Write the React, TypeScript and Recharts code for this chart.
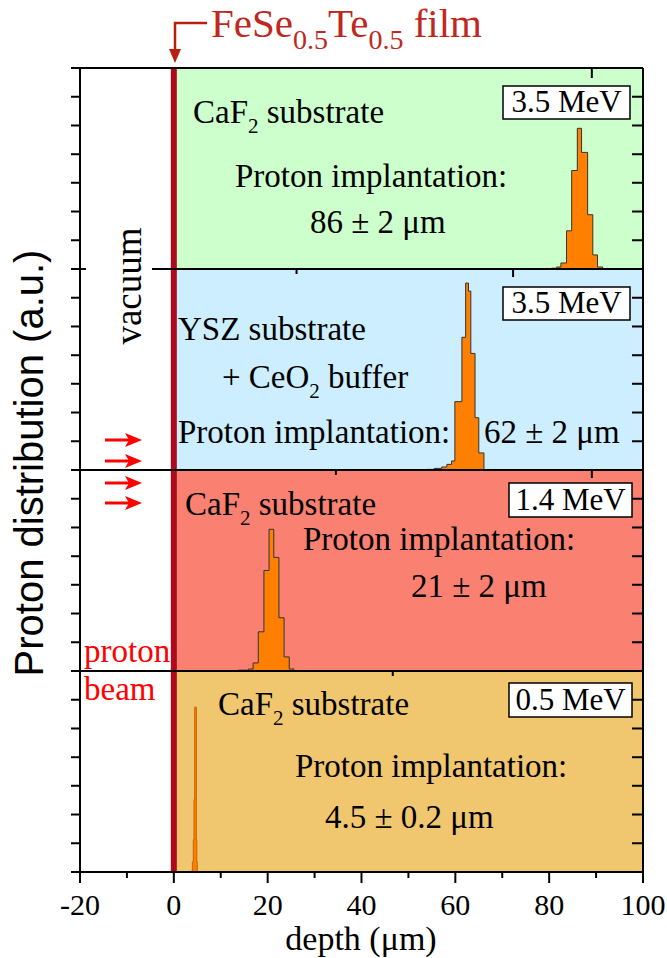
import { ComposedChart, Area, XAxis, YAxis, ReferenceArea, ReferenceLine } from 'recharts'

// histogram bin edges (µm) and normalised counts
const edges35CaF2 = [80.5, 81.6, 82.5, 83.7, 84.8, 86.0, 86.9, 88.2, 89.3, 90.3, 91.4]
const counts35CaF2 = [0.004, 0.01, 0.03, 0.19, 0.49, 0.7, 0.58, 0.27, 0.07, 0.01]

const edges35YSZ = [53.9, 55.5, 57.1, 58.2, 59.2, 59.9, 61.4, 62.2, 62.8, 63.3, 64.2, 65.0, 66.1]
const counts35YSZ = [0.003, 0.008, 0.015, 0.028, 0.045, 0.34, 0.66, 0.93, 0.89, 0.58, 0.26, 0.085]

const edges14CaF2 = [13.7, 15.9, 16.9, 18.0, 19.2, 20.3, 21.3, 22.4, 23.5, 24.6, 25.6]
const counts14CaF2 = [0.004, 0.01, 0.04, 0.195, 0.5, 0.705, 0.565, 0.265, 0.07, 0.01]

const edges05CaF2 = [3.7, 3.95, 4.15, 4.3, 4.45, 4.8, 4.9, 5.0, 5.2]
const counts05CaF2 = [0.005, 0.05, 0.16, 0.36, 0.82, 0.16, 0.05, 0.005]

const bottomTicks = [-20, -10, 0, 10, 20, 30, 40, 50, 60, 70, 80, 90, 100]
const topTicksCoarse = [-20, -10, 0, 10, 20, 30, 40, 50, 60, 70, 80, 90, 100]
const topTicksFine = [-20, -15, -10, -5, 0, 5, 10, 15, 20, 25, 30, 35, 40, 45, 50, 55, 60, 65, 70, 75, 80, 85, 90, 95, 100]
const yTicks = [0, 0.143, 0.286, 0.429, 0.571, 0.714, 0.857, 1]

const W = 667
const PANEL_H = 201
const TOP = 68
const SERIF = '"Liberation Serif", "Times New Roman", serif'
const FILM = '#AE0A1E'

const toSteps = (edges: number[], counts: number[]) => [
  { x: edges[0], y: 0 },
  ...edges.map((x, i) => ({ x, y: i < counts.length ? counts[i] : 0 })),
]

const BottomTick = (props: any) => {
  const { x, y, payload } = props
  const major = payload.value % 20 === 0
  return (
    <g>
      <line x1={x} x2={x} y1={y} y2={y + (major ? 11 : 6)} stroke="#000" strokeWidth={2} />
      {major && (
        <text x={x} y={y + 43} textAnchor="middle" fontFamily={SERIF} fontSize={30} fill="#000">
          {payload.value}
        </text>
      )}
    </g>
  )
}

const TopTick = (props: any) => {
  const { x, y, payload, fine } = props
  const len = fine ? (payload.value % 10 === 0 ? 8 : 5) : 10
  return <line x1={x} x2={x} y1={y} y2={y + len} stroke="#000" strokeWidth={2} />
}

const LeftTick = (props: any) => {
  const { x, y, payload } = props
  const edge = payload.value === 0 || payload.value === 1
  return <line x1={x - 9} x2={edge ? x + 6 : x} y1={y} y2={y} stroke="#000" strokeWidth={2} />
}

const RightTick = (props: any) => {
  const { x, y } = props
  return <line x1={x - 11} x2={x} y1={y} y2={y} stroke="#000" strokeWidth={2} />
}

function Panel({ data, bg, top, last, fine, stroke }: any) {
  const h = (last ? PANEL_H + 86 : PANEL_H) + 1
  const axisLine = { stroke: '#000', strokeWidth: 2 }
  return (
    <div style={{ position: 'absolute', left: 0, top: top - 1 }}>
      <ComposedChart width={W} height={h} data={data} margin={{ top: 0, right: 23, bottom: 0, left: 79 }}>
        <XAxis
          xAxisId="b"
          dataKey="x"
          type="number"
          domain={[-20, 100]}
          ticks={bottomTicks}
          interval={0}
          hide={!last}
          height={last ? 86 : 1}
          axisLine={axisLine}
          tickLine={false}
          tickSize={0}
          tickMargin={0}
          tick={<BottomTick />}
          allowDataOverflow
        />
        <XAxis
          xAxisId="t"
          orientation="top"
          type="number"
          domain={[-20, 100]}
          ticks={fine ? topTicksFine : topTicksCoarse}
          interval={0}
          height={1}
          axisLine={axisLine}
          tickLine={false}
          tickSize={0}
          tickMargin={0}
          tick={<TopTick fine={fine} />}
          allowDataOverflow
        />
        <YAxis
          yAxisId="l"
          type="number"
          domain={[0, 1]}
          ticks={yTicks}
          interval={0}
          width={1}
          axisLine={axisLine}
          tickLine={false}
          tickSize={0}
          tickMargin={0}
          tick={<LeftTick />}
          allowDataOverflow
        />
        <YAxis
          yAxisId="r"
          orientation="right"
          type="number"
          domain={[0, 1]}
          ticks={yTicks}
          interval={0}
          width={1}
          axisLine={axisLine}
          tickLine={false}
          tickSize={0}
          tickMargin={0}
          tick={<RightTick />}
          allowDataOverflow
        />
        <ReferenceArea xAxisId="b" yAxisId="l" x1={0} x2={100} y1={0} y2={1} fill={bg} fillOpacity={1} stroke="none" />
        <Area
          xAxisId="b"
          yAxisId="l"
          type="stepAfter"
          dataKey="y"
          fill="#FF8000"
          fillOpacity={1}
          stroke={stroke}
          strokeWidth={1}
          dot={false}
          activeDot={false}
          isAnimationActive={false}
        />
        <ReferenceLine xAxisId="b" yAxisId="l" x={0} stroke={FILM} strokeWidth={6} />
      </ComposedChart>
    </div>
  )
}

const Sub = ({ children }: any) => (
  <tspan fontSize={21} dy={10}>
    {children}
  </tspan>
)

const EnergyBox = ({ x, y, w, h, label }: any) => (
  <g>
    <rect x={x} y={y} width={w} height={h} fill="#fff" stroke="#000" strokeWidth={1.5} />
    <text x={x + w / 2} y={y + h - 7} textAnchor="middle" fontSize={31}>
      {label}
    </text>
  </g>
)

const arrowsY = [440, 461, 483, 503]

export default function App() {
  return (
    <div style={{ position: 'absolute', left: 0, top: 0, width: W, height: 958, background: '#fff' }}>
      <Panel data={toSteps(edges35CaF2, counts35CaF2)} bg="#CCFFCC" top={TOP} fine={false} stroke="#333" />
      <Panel data={toSteps(edges35YSZ, counts35YSZ)} bg="#CCEEFF" top={TOP + PANEL_H} fine stroke="#333" />
      <Panel data={toSteps(edges14CaF2, counts14CaF2)} bg="#FA8072" top={TOP + 2 * PANEL_H} fine stroke="#333" />
      <Panel data={toSteps(edges05CaF2, counts05CaF2)} bg="#F0C66E" top={TOP + 3 * PANEL_H} fine last stroke="#C86400" />

      <svg
        width={W}
        height={958}
        style={{ position: 'absolute', left: 0, top: 0, pointerEvents: 'none' }}
        fontFamily={SERIF}
      >
        {/* film label and arrow */}
        <text x={211} y={37} fill="#C0281E" fontSize={41}>
          FeSe
          <tspan fontSize={28} dy={12}>0.5</tspan>
          <tspan dy={-12}>Te</tspan>
          <tspan fontSize={28} dy={12}>0.5</tspan>
          <tspan dy={-12}> film</tspan>
        </text>
        <polyline points="207,23 175,23 175,52" fill="none" stroke="#B5200F" strokeWidth={2.5} />
        <polygon points="169,49 181,49 175,63" fill="#B5200F" />

        {/* vacuum */}
        <rect x={86} y={222} width={66} height={128} fill="#fff" />
        <text transform="translate(141,286) rotate(-90)" textAnchor="middle" fontSize={37}>
          vacuum
        </text>

        {/* y label */}
        <text
          transform="translate(43,463) rotate(-90)"
          textAnchor="middle"
          fontFamily='"Liberation Sans", Arial, sans-serif'
          fontSize={40}
        >
          Proton distribution (a.u.)
        </text>

        {/* proton beam */}
        {arrowsY.map((y) => (
          <g key={y}>
            <line x1={105} x2={130} y1={y} y2={y} stroke="#FF0000" strokeWidth={3} />
            <polygon points={`${125},${y - 7} ${142},${y} ${125},${y + 7} ${129},${y}`} fill="#FF0000" />
          </g>
        ))}
        <text x={84} y={662} fill="#FF0000" fontSize={33}>proton</text>
        <text x={84} y={700} fill="#FF0000" fontSize={33}>beam</text>

        {/* panel 1 */}
        <EnergyBox x={503} y={86} w={127} h={33} label="3.5 MeV" />
        <text x={193} y={123} fontSize={33}>
          CaF<Sub>2</Sub>
          <tspan dy={-10}> substrate</tspan>
        </text>
        <text x={235} y={187} fontSize={33}>Proton implantation:</text>
        <text x={310} y={233} fontSize={33}>86 ± 2 μm</text>

        {/* panel 2 */}
        <EnergyBox x={503} y={287} w={127} h={33} label="3.5 MeV" />
        <text x={178} y={340} fontSize={33}>YSZ substrate</text>
        <text x={222} y={388} fontSize={33}>
          + CeO<Sub>2</Sub>
          <tspan dy={-10}> buffer</tspan>
        </text>
        <text x={178} y={443} fontSize={33}>Proton implantation:</text>
        <text x={484} y={443} fontSize={33}>62 ± 2 μm</text>

        {/* panel 3 */}
        <EnergyBox x={509} y={483} w={123} h={34} label="1.4 MeV" />
        <text x={185} y={515} fontSize={33}>
          CaF<Sub>2</Sub>
          <tspan dy={-10}> substrate</tspan>
        </text>
        <text x={303} y={550} fontSize={33}>Proton implantation:</text>
        <text x={411} y={597} fontSize={33}>21 ± 2 μm</text>

        {/* panel 4 */}
        <EnergyBox x={509} y={683} w={123} h={34} label="0.5 MeV" />
        <text x={218} y={715} fontSize={33}>
          CaF<Sub>2</Sub>
          <tspan dy={-10}> substrate</tspan>
        </text>
        <text x={295} y={777} fontSize={33}>Proton implantation:</text>
        <text x={325} y={828} fontSize={33}>4.5 ± 0.2 μm</text>

        {/* x label */}
        <text x={361} y={950} textAnchor="middle" fontSize={34}>depth (μm)</text>
      </svg>
    </div>
  )
}
